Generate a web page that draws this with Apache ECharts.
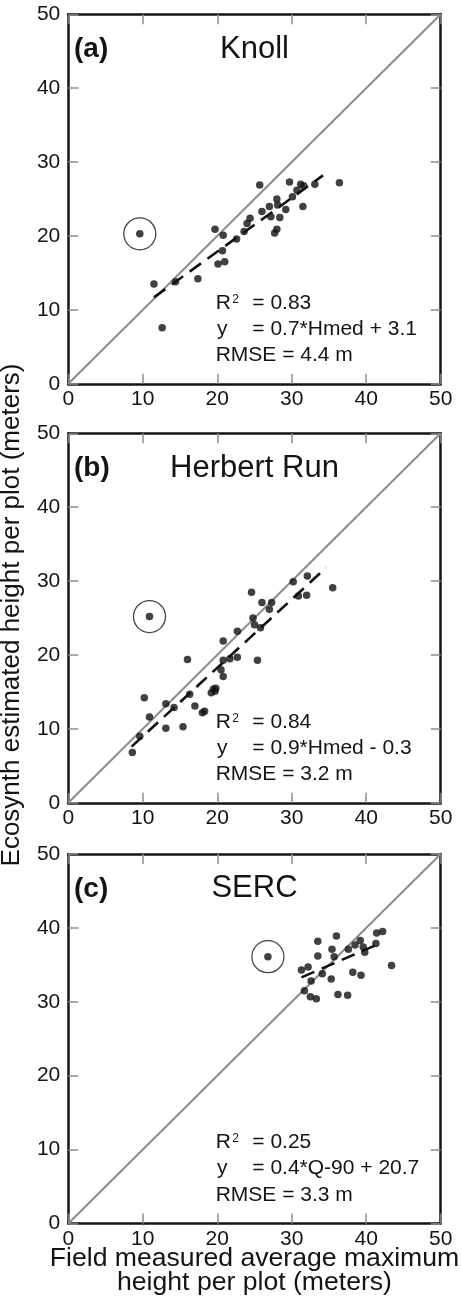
<!DOCTYPE html>
<html>
<head>
<meta charset="utf-8">
<script src="https://cdn.jsdelivr.net/npm/echarts@6/dist/echarts.min.js"></script>
<style>
  html, body { margin: 0; padding: 0; background: #ffffff; }
  #chart { width: 462px; height: 1297px; }
</style>
</head>
<body>
<div id="chart"></div>
<script>
// ---- Knoll plots: field average max height (x) vs Ecosynth height (y), meters
const knollField = [11.5, 12.6, 14.4, 17.4, 19.7, 20.8, 20.7, 20.1, 21.0, 22.6, 23.6, 24.0, 24.4,
  25.7, 26.0, 27.0, 27.2, 27.7, 28.0, 28.0, 28.1, 28.4, 29.2, 29.7, 30.1, 30.7, 31.2, 31.6, 31.5, 33.1, 36.4];
const knollEco   = [13.5, 7.6, 13.8, 14.2, 20.9, 20.1, 18.0, 16.2, 16.5, 19.6, 20.6, 21.7, 22.4,
  26.9, 23.3, 24.0, 22.6, 20.4, 20.9, 25.0, 24.2, 22.5, 23.6, 27.3, 25.3, 26.2, 27.0, 26.8, 24.0, 27.0, 27.2];
const knollOutlier = [9.6, 20.3];
const knollFit = [[11.5, 11.7], [34.2, 28.2]];

// ---- Herbert Run plots
const herbertField = [8.6, 9.6, 10.2, 10.9, 13.1, 13.1, 14.2, 15.4, 16.0, 16.3, 17.0, 18.0, 18.3,
  19.2, 19.5, 19.8, 19.7, 20.5, 20.8, 20.8, 20.8, 21.7, 22.7, 22.7, 24.6, 24.8, 25.0, 25.4, 25.8,
  26.0, 27.0, 27.3, 30.2, 30.9, 32.0, 32.1, 35.5];
const herbertEco   = [6.8, 9.0, 14.2, 11.6, 13.4, 10.1, 12.9, 10.3, 19.4, 14.7, 13.1, 12.2, 12.4,
  14.9, 15.4, 15.5, 15.1, 18.0, 21.9, 19.3, 17.1, 19.5, 23.2, 19.7, 28.5, 25.0, 24.1, 19.3, 23.7,
  27.1, 26.2, 27.1, 29.9, 28.0, 28.1, 30.7, 29.1];
const herbertOutlier = [10.9, 25.2];
const herbertFit = [[8.5, 7.6], [34.6, 31.8]];

// ---- SERC plots
const sercField = [31.3, 31.7, 32.2, 32.5, 32.6, 33.3, 33.5, 33.5, 34.1, 35.3, 35.4, 35.7, 36.0,
  36.2, 37.5, 37.6, 38.2, 38.5, 39.2, 39.3, 39.6, 39.8, 41.3, 41.4, 42.2, 43.4];
const sercEco   = [34.3, 31.5, 34.7, 30.7, 32.8, 30.4, 38.2, 36.2, 33.8, 33.1, 37.1, 36.1, 38.9,
  31.0, 30.9, 37.1, 34.0, 37.7, 38.3, 33.6, 37.4, 36.7, 37.9, 39.3, 39.5, 34.9];
const sercOutlier = [26.8, 36.1];
const sercFit = [[31.3, 33.3], [41.6, 37.8]];

// ---- axis range and per-panel text
const axisMin = 0, axisMax = 50, axisStep = 10;
const panelTags = ['(a)', '(b)', '(c)'];
const siteNames = ['Knoll', 'Herbert Run', 'SERC'];
const r2Values = ['0.83', '0.84', '0.25'];
const fitEquations = ['0.7*Hmed + 3.1', '0.9*Hmed - 0.3', '0.4*Q-90 + 20.7'];
const rmseValues = ['4.4 m', '3.2 m', '3.3 m'];
const xTitleLines = ['Field measured average maximum', 'height per plot (meters)'];
const yTitle = 'Ecosynth estimated height per plot (meters)';

const panels = [
  { field: knollField, eco: knollEco, outlier: knollOutlier, fit: knollFit },
  { field: herbertField, eco: herbertEco, outlier: herbertOutlier, fit: herbertFit },
  { field: sercField, eco: sercEco, outlier: sercOutlier, fit: sercFit }
];

// ---- layout
const FONT = "'Liberation Sans', Arial, Helvetica, sans-serif";
const INK = '#141414';
const GRID_LEFT = 68.3, GRID_W = 372.4, GRID_H = 369.5;
const GRID_TOPS = [14.3, 433.3, 854.0];

const chart = echarts.init(document.getElementById('chart'), null, { renderer: 'canvas' });

const grids = GRID_TOPS.map(t => ({
  left: GRID_LEFT, top: t, width: GRID_W, height: GRID_H,
  containLabel: false, outerBoundsMode: 'none'
}));

function makeAxis(gridIndex, position, withLabels) {
  return {
    type: 'value', gridIndex, position,
    min: axisMin, max: axisMax, interval: axisStep,
    axisLine: { show: true, onZero: false, lineStyle: { color: INK, width: 2.5 } },
    axisTick: { show: true, inside: true, length: 10, lineStyle: { color: '#8f8f8f', width: 1.5 } },
    splitLine: { show: false },
    axisLabel: {
      show: withLabels, color: INK, fontFamily: FONT, fontSize: 21,
      margin: position === 'left' ? 8 : 5,
      showMinLabel: true, showMaxLabel: true
    }
  };
}

const xAxes = [], yAxes = [];
[0, 1, 2].forEach(i => { xAxes.push(makeAxis(i, 'bottom', true)); yAxes.push(makeAxis(i, 'left', true)); });
[0, 1, 2].forEach(i => { xAxes.push(makeAxis(i, 'top', false)); yAxes.push(makeAxis(i, 'right', false)); });

const series = [];
panels.forEach((p, i) => {
  const pts = p.field.map((x, k) => [x, p.eco[k]]);
  series.push({
    type: 'line', xAxisIndex: i, yAxisIndex: i, silent: true, z: 1,
    data: [[axisMin, axisMin], [axisMax, axisMax]],
    showSymbol: false, symbol: 'none',
    lineStyle: { color: '#8c8c8c', width: 2 }
  });
  series.push({
    type: 'line', xAxisIndex: i, yAxisIndex: i, silent: true, z: 2,
    data: p.fit, showSymbol: false, symbol: 'none',
    lineStyle: { color: '#111111', width: 2.6, type: [14, 8] }
  });
  series.push({
    type: 'scatter', xAxisIndex: i, yAxisIndex: i, silent: true, z: 3,
    data: pts.concat([p.outlier]), symbol: 'circle', symbolSize: 7.5,
    itemStyle: { color: '#111111' }
  });
  series.push({
    type: 'scatter', xAxisIndex: i, yAxisIndex: i, silent: true, z: 3,
    data: [p.outlier], symbol: 'circle', symbolSize: 32,
    itemStyle: { color: 'rgba(0,0,0,0)', borderColor: '#151515', borderWidth: 1.3 }
  });
});

// ---- panel labels, site names and fit statistics
const graphics = [];
function txt(x, y, text, size, extra) {
  return {
    type: 'text', x, y, silent: true, z: 10,
    style: Object.assign({
      text, fill: INK, fontFamily: FONT, fontSize: size,
      align: 'left', verticalAlign: 'middle'
    }, extra || {})
  };
}
GRID_TOPS.forEach((top, i) => {
  graphics.push(txt(GRID_LEFT + 5.7, top + 35.3, panelTags[i], 28, { fontWeight: 'bold' }));
  graphics.push(txt(GRID_LEFT + GRID_W / 2, top + 34.7, siteNames[i], 31, { align: 'center' }));
  graphics.push(txt(GRID_LEFT + 147.4, top + 288.5, 'R', 21));
  graphics.push(txt(GRID_LEFT + 164.0, top + 285.0, '2', 12));
  graphics.push(txt(GRID_LEFT + 184.0, top + 288.5, '= ' + r2Values[i], 21));
  graphics.push(txt(GRID_LEFT + 148.7, top + 314.7, 'y', 21));
  graphics.push(txt(GRID_LEFT + 184.0, top + 314.7, '= ' + fitEquations[i], 21));
  graphics.push(txt(GRID_LEFT + 147.4, top + 340.9, 'RMSE = ' + rmseValues[i], 21));
});
// shared axis titles
const yTitleText = txt(11.5, 615, yTitle, 26, { align: 'center' });
yTitleText.rotation = Math.PI / 2;
graphics.push(yTitleText);
graphics.push(txt(GRID_LEFT + GRID_W / 2, 1258.6, xTitleLines[0], 26.6, { align: 'center' }));
graphics.push(txt(GRID_LEFT + GRID_W / 2, 1282.6, xTitleLines[1], 26.6, { align: 'center' }));

chart.setOption({
  animation: false,
  backgroundColor: '#ffffff',
  grid: grids,
  xAxis: xAxes,
  yAxis: yAxes,
  series,
  graphic: { elements: graphics }
});
</script>
</body>
</html>
